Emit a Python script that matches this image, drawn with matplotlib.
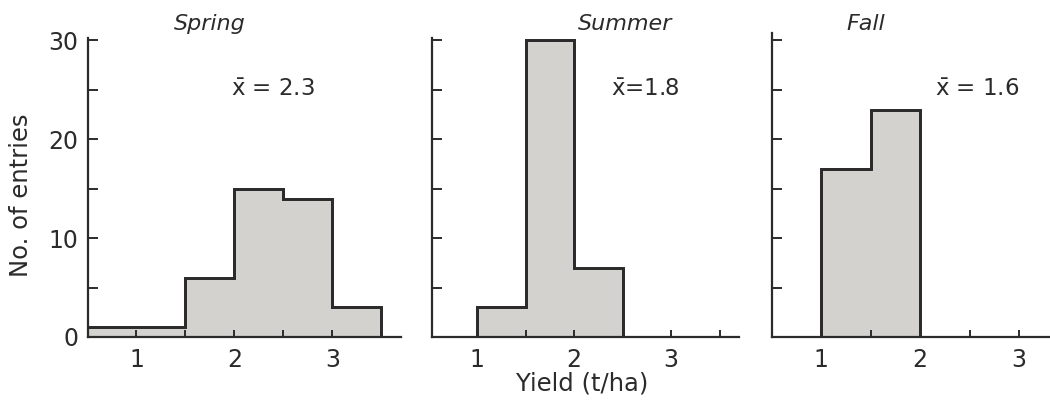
import matplotlib
matplotlib.use("Agg")
import matplotlib.pyplot as plt

# bin edges (t/ha) and counts per season
edges = [0.5, 1.0, 1.5, 2.0, 2.5, 3.0, 3.5]
spring = [1, 1, 6, 15, 14, 3]
summer = [0, 3, 30, 7, 0, 0]
fall = [0, 17, 23, 0, 0, 0]

seasons = ["Spring", "Summer", "Fall"]
means = ["2.3", "1.8", "1.6"]
mean_fmt = [r"$\bar{\mathrm{x}}$ = ", r"$\bar{\mathrm{x}}$=", r"$\bar{\mathrm{x}}$ = "]

FILL = "#d3d2cf"
INK = "#2b2b2b"

W, H = 1050, 403
fig = plt.figure(figsize=(W / 100, H / 100), dpi=100)
plt.rcParams["font.family"] = "DejaVu Sans"

# panel geometry in pixels: axis left, px per x unit, x-lim left, y-lim top
panels = [
    dict(left=88, unit=98, x0=0.506, ytop=30.2, title_x=1.75, mean_x=1.97),
    dict(left=432, unit=97, x0=0.536, ytop=30.2, title_x=2.53, mean_x=2.38),
    dict(left=772, unit=99, x0=0.505, ytop=30.7, title_x=1.45, mean_x=2.15),
]
x1 = 3.7
base_px = 337
ypx = 9.89

for p, counts, name, m, fmt in zip(panels, [spring, summer, fall], seasons, means, mean_fmt):
    width_px = (x1 - p["x0"]) * p["unit"]
    height_px = p["ytop"] * ypx
    ax = fig.add_axes([p["left"] / W, 1 - base_px / H, width_px / W, height_px / H])
    ax.stairs(counts, edges, fill=True, facecolor=FILL, edgecolor=INK,
              linewidth=2.0, baseline=0)
    ax.stairs(counts, edges, fill=False, color=INK, linewidth=2.0, baseline=0)
    ax.set_xlim(p["x0"], x1)
    ax.set_ylim(0, p["ytop"])

    for s in ("top", "right"):
        ax.spines[s].set_visible(False)
    for s in ("left", "bottom"):
        ax.spines[s].set_linewidth(1.6)
        ax.spines[s].set_color(INK)

    ax.set_xticks([1, 2, 3])
    ax.set_xticklabels(["1", "2", "3"])
    ax.set_xticks([1.5, 2.5, 3.5], minor=True)
    ax.set_yticks([0, 10, 20, 30])
    ax.set_yticks([5, 15, 25], minor=True)
    ax.tick_params(axis="x", which="both", direction="in", length=5, width=1.4,
                   color=INK, labelsize=17, pad=8, labelcolor=INK)
    ax.tick_params(axis="y", which="both", direction="in", length=7, width=1.4,
                   color=INK, labelsize=17, pad=7, labelcolor=INK)
    if name != "Spring":
        ax.set_yticklabels([])

    ax.text(p["title_x"], 31.6, name, style="italic", fontsize=16,
            ha="center", va="center", color=INK)
    ax.text(p["mean_x"], 25.0, fmt + m, fontsize=16.5, ha="left", va="center",
            color=INK)

fig.text(21 / W, 1 - 195 / H, "No. of entries", rotation=90, fontsize=17.5,
         ha="center", va="center", color=INK)
fig.text(582 / W, 1 - 383 / H, "Yield (t/ha)", fontsize=17.5,
         ha="center", va="center", color=INK)

fig.savefig("out.png", dpi=100)
